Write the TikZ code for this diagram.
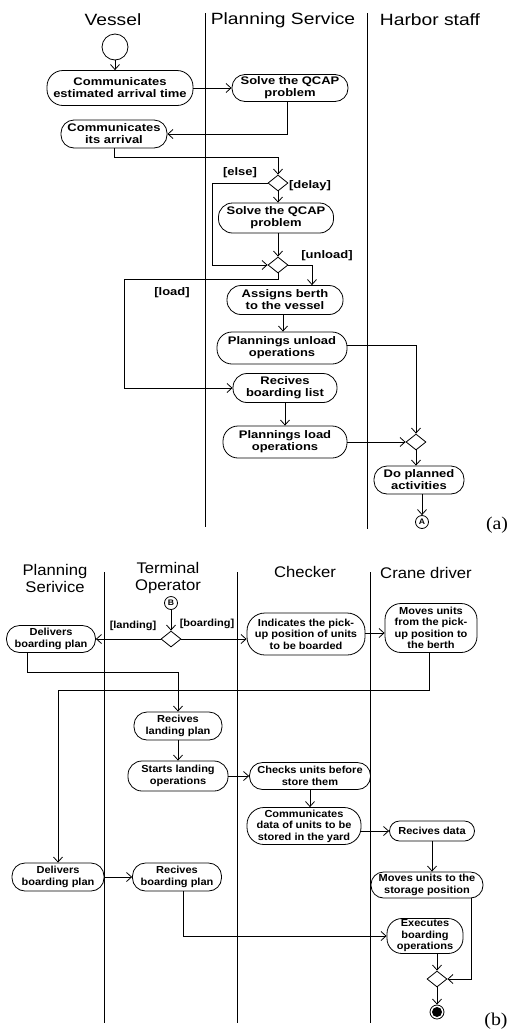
\documentclass[tikz,border=0pt]{standalone}
\usepackage{fontspec}
\usetikzlibrary{arrows.meta,shapes.geometric}
\newfontfamily\fa{Liberation Sans}[FakeStretch=1.18]
\newfontfamily\fb{Liberation Sans}[FakeStretch=1.08]
\newfontfamily\fcap{Liberation Serif}[FakeStretch=1.1]

\begin{document}
\begin{tikzpicture}[x=1pt,y=-1pt,
  line width=0.8pt,
  >={Straight Barb[length=5pt,width=9pt]},
  lane/.style={line width=1pt},
  hdA/.style={font=\fa\fontsize{16.3}{17}\selectfont, align=center, inner sep=0pt},
  hdB/.style={font=\fb\fontsize{15.4}{17}\selectfont, align=center, inner sep=0pt},
  actA/.style={draw, rounded corners=13pt, align=center, inner sep=0pt, font=\fa\bfseries\fontsize{11}{12}\selectfont},
  actB/.style={draw, rounded corners=13pt, align=center, inner sep=0pt, font=\fb\bfseries\fontsize{10.2}{11.5}\selectfont},
  guardA/.style={font=\fa\bfseries\fontsize{11}{12}\selectfont, inner sep=0pt},
  guardB/.style={font=\fb\bfseries\fontsize{10.2}{11.5}\selectfont, inner sep=0pt},
  dec/.style={draw, diamond, minimum width=20pt, minimum height=16pt, inner sep=0pt},
  conn/.style={draw, circle, inner sep=0pt, minimum size=13pt, font=\fb\bfseries\fontsize{8}{9}\selectfont},
  caption/.style={font=\fcap\fontsize{18}{20}\selectfont, inner sep=0pt},
]
\useasboundingbox (0,0) rectangle (508,1031);

% ---------------- (a) vessel arrival ----------------
\draw[lane] (205,13) -- (205,527);
\draw[lane] (367,13) -- (367,529);
\node[hdA] (hv) at (113,20) {Vessel};
\node[hdA] (hp) at (283,20) {Planning Service};
\node[hdA] (hh) at (430,20) {Harbor staff};

\node[draw, circle, minimum size=26pt, inner sep=0pt] (init) at (115,47) {};
\node[actA, minimum width=146pt, minimum height=35pt, rounded corners=16pt] (n1) at (120,88) {Communicates\\estimated arrival time};
\node[actA, minimum width=116pt, minimum height=27pt] (s1) at (290,88) {Solve the QCAP\\problem};
\node[actA, minimum width=106pt, minimum height=28pt] (n2) at (114,134) {Communicates\\its arrival};
\node[dec] (d1) at (278,183) {};
\node[actA, minimum width=115pt, minimum height=30pt, rounded corners=14pt] (s2) at (276,218) {Solve the QCAP\\problem};
\node[dec] (d2) at (278,265) {};
\node[actA, minimum width=116pt, minimum height=29pt, rounded corners=14pt] (ab) at (285,300) {Assigns berth\\to the vessel};
\node[actA, minimum width=130pt, minimum height=32pt, rounded corners=15pt] (pu) at (282,348) {Plannings unload\\operations};
\node[actA, minimum width=104pt, minimum height=29pt, rounded corners=14pt] (rb) at (285,388) {Recives\\boarding list};
\node[actA, minimum width=124pt, minimum height=32pt, rounded corners=15pt] (pl) at (285,442) {Plannings load\\operations};
\node[dec] (d3) at (416,442) {};
\node[actA, minimum width=90pt, minimum height=28pt] (dp) at (419,480) {Do planned\\activities};
\node[conn] (A) at (422,522) {A};

\node[guardA] (gelse) at (240,173) {[else]};
\node[guardA] (gdelay) at (310,186) {[delay]};
\node[guardA] (gunload) at (327,256) {[unload]};
\node[guardA] (gload) at (172,293) {[load]};

\draw[->] (init.south) -- (init.south |- n1.north);
\draw[->] (n1.east) -- (n1.east -| s1.west);
\draw[->] ([xshift=-3pt]s1.south) |- (n2.east);
\draw[->] (n2.south) -- ++(0,9) -| (d1.north);
\draw[->] (d1.west) -- ++(-55,0) |- (d2.west);
\draw[->] (d1.south) -- (d1.south |- s2.north);
\draw[->] (d2.north |- s2.south) -- (d2.north);
\draw[->] (d2.east) -| ([xshift=27pt]ab.north);
\draw[->] (d2.south) -- ++(0,6) -- ++(-154,0) |- (rb.west);
\draw[->] ([xshift=-2pt]ab.south) -- ([xshift=-2pt]ab.south |- pu.north);
\draw[->] ([yshift=3pt]pu.east) -| (d3.north);
\draw[->] (rb.south) -- (pl.north);
\draw[->] (pl.east) -- (d3.west);
\draw[->] (d3.south) -- (d3.south |- dp.north);
\draw[->] (A.north |- dp.south) -- (A.north);

\node[caption] (capa) at (497,525) {(a)};

% ---------------- (b) unloading and boarding ----------------
\draw[lane] (104,572) -- (104,1023);
\draw[lane] (237,572) -- (237,1023);
\draw[lane] (370,572) -- (370,1023);
\node[hdB] (hps) at (55,578) {Planning\\Serivice};
\node[hdB] (hto) at (168,578) {Terminal\\Operator};
\node[hdB] (hch) at (305,572) {Checker};
\node[hdB] (hcd) at (426,573) {Crane driver};

\node[conn] (B) at (171,603) {B};
\node[dec] (d4) at (171,639) {};
\node[actB, minimum width=89pt, minimum height=27pt] (db1) at (51,639) {Delivers\\boarding plan};
\node[actB, minimum width=118pt, minimum height=42pt, rounded corners=18pt] (ind) at (306,634) {Indicates the pick-\\up position of units\\to be boarded};
\node[actB, minimum width=92pt, minimum height=49pt, rounded corners=16pt] (mv1) at (431,628) {Moves units\\from the pick-\\up position to\\the berth};
\node[actB, minimum width=88pt, minimum height=28pt] (rl) at (178,726) {Recives\\landing plan};
\node[actB, minimum width=100pt, minimum height=30pt, rounded corners=14pt] (sl) at (178,776) {Starts landing\\operations};
\node[actB, minimum width=121pt, minimum height=27pt] (cu) at (310,776) {Checks units before\\store them};
\node[actB, minimum width=114pt, minimum height=37pt, rounded corners=17pt] (cd) at (304,826) {Communicates\\data of units to be\\stored in the yard};
\node[actB, minimum width=85pt, minimum height=20pt, rounded corners=10pt] (rd) at (432,831) {Recives data};
\node[actB, minimum width=92pt, minimum height=28pt] (db2) at (58,877) {Delivers\\boarding plan};
\node[actB, minimum width=89pt, minimum height=28pt] (rbp) at (177,877) {Recives\\boarding plan};
\node[actB, minimum width=112pt, minimum height=26pt, rounded corners=12.5pt] (ms) at (427,885) {Moves units to the\\storage position};
\node[actB, minimum width=76pt, minimum height=35pt, rounded corners=15pt] (ex) at (425,936) {Executes\\boarding\\operations};
\node[dec] (d5) at (437,979) {};
\node[draw, circle, minimum size=14pt, inner sep=0pt,
      path picture={\fill (path picture bounding box.center) circle (5pt);}] (fin) at (437,1012) {};

\node[guardB] (gland) at (133,626) {[landing]};
\node[guardB] (gboard) at (207,624) {[boarding]};

\draw[->] (B.south) -- (d4.north);
\draw[->] (d4.west) -- (db1.east);
\draw[->] (d4.east) -- (d4.east -| ind.west);
\draw[->] (ind.east |- 0,633) -- (mv1.west |- 0,633);
\draw[->] ([xshift=-24pt]db1.south) -- ++(0,19) -| (rl.north);
\draw[->] ([xshift=-2pt]mv1.south) -- ++(0,37) -| (db2.north);
\draw[->] (rl.south) -- (sl.north);
\draw[->] (sl.east) -- (cu.west);
\draw[->] (cu.south) -- (cu.south |- cd.north);
\draw[->] (cd.east |- rd.west) -- (rd.west);
\draw[->] (rd.south) -- (rd.south |- ms.north);
\draw[->] (db2.east) -- (rbp.west);
\draw[->] ([xshift=6pt]rbp.south) |- (ex.west);
\draw[->] ([xshift=44pt]ms.south) |- (d5.east);
\draw[->] (d5.north |- ex.south) -- (d5.north);
\draw[->] (d5.south) -- (fin.north);

\node[caption] (capb) at (496,1021) {(b)};
\end{tikzpicture}
\end{document}
